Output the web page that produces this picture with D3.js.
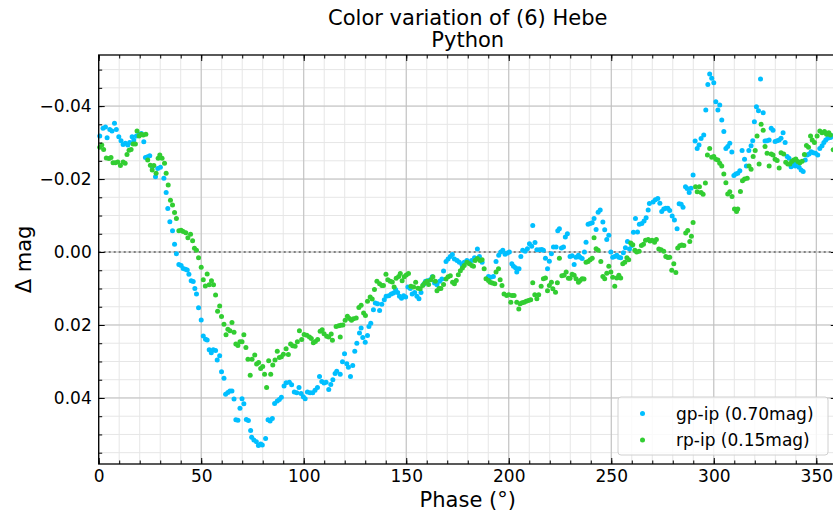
<!DOCTYPE html>
<html>
<head>
<meta charset="utf-8">
<script src="https://cdn.jsdelivr.net/npm/d3@7"></script>
<style>
body { margin: 0; background: #fff; }
svg { display: block; font-family: "DejaVu Sans", sans-serif; }
</style>
</head>
<body>
<div id="chart"></div>
<script>
// phase (deg), delta mag
var gpPoints = [
[0.5,-.0318],[2.1,-.0339],[3.3,-.0343],[4.1,-.0313],[5.4,-.0336],[6.5,-.0332],[7.7,-.0353],[8.6,-.0336],[9.8,-.0316],[10.9,-.0305],
[11.9,-.0295],[13.0,-.0298],[14.2,-.0293],[15.1,-.0300],[16.3,-.0316],[17.1,-.0307],[18.4,-.0318],[19.7,-.0323],[20.8,-.0325],[22.0,-.0302],
[22.8,-.0259],[23.9,-.0261],[24.9,-.0264],[26.1,-.0234],[27.7,-.0206],[28.8,-.0229],[30.1,-.0232],[31.8,-.0202],[32.9,-.0163],[33.7,-.0119],
[34.7,-.0083],[36.0,-.0058],[37.0,-.0021],[37.9,.0005],[39.1,.0034],[40.2,.0037],[41.2,.0045],[42.3,.0047],[43.2,.0049],[44.0,.0061],
[45.1,.0079],[46.1,.0081],[46.9,.0100],[47.7,.0115],[48.7,.0153],[50.0,.0186],[51.0,.0230],[52.1,.0239],[52.9,.0241],[53.9,.0268],
[54.9,.0276],[55.9,.0268],[57.0,.0270],[57.8,.0296],[59.0,.0284],[59.9,.0328],[61.1,.0346],[61.9,.0390],[63.0,.0385],[64.0,.0381],
[65.0,.0381],[66.0,.0403],[66.9,.0460],[67.9,.0461],[68.9,.0428],[69.9,.0402],[70.8,.0416],[72.0,.0459],[73.0,.0462],[74.1,.0489],
[74.6,.0508],[75.7,.0515],[76.9,.0520],[77.9,.0530],[79.0,.0526],[79.8,.0529],[81.4,.0511],[82.6,.0460],[83.6,.0463],[84.7,.0456],
[85.8,.0415],[87.1,.0408],[88.1,.0404],[89.1,.0398],[90.4,.0367],[91.4,.0358],[93.0,.0357],[94.1,.0364],[95.4,.0384],[96.6,.0386],
[97.7,.0371],[98.7,.0388],[99.8,.0397],[100.7,.0402],[101.8,.0384],[103.1,.0386],[104.4,.0386],[105.5,.0379],[106.7,.0371],[107.7,.0341],
[108.8,.0355],[109.9,.0359],[110.9,.0357],[112.2,.0377],[113.2,.0363],[114.2,.0350],[115.3,.0333],[116.1,.0327],[117.8,.0335],[118.9,.0301],
[119.9,.0279],[121.0,.0306],[121.8,.0316],[122.8,.0341],[123.9,.0311],[124.9,.0272],[125.9,.0250],[127.2,.0222],[128.0,.0208],[128.8,.0234],
[130.0,.0247],[131.1,.0229],[131.8,.0204],[132.7,.0195],[134.0,.0158],[134.9,.0140],[136.0,.0142],[137.0,.0160],[138.1,.0143],[139.3,.0131],
[140.2,.0121],[141.5,.0120],[142.7,.0115],[143.8,.0112],[144.8,.0103],[145.8,.0111],[146.7,.0121],[147.7,.0127],[148.7,.0120],[149.7,.0123],
[150.8,.0096],[152.0,.0100],[152.9,.0115],[154.1,.0111],[155.2,.0121],[156.2,.0128],[157.2,.0111],[158.5,.0088],[159.4,.0080],[160.4,.0079],
[161.7,.0076],[162.7,.0068],[163.8,.0085],[165.0,.0090],[166.3,.0080],[167.4,.0074],[168.2,.0052],[169.4,.0026],[170.4,.0019],[171.5,.0012],
[172.5,.0007],[173.5,.0019],[174.8,.0023],[175.9,.0028],[177.2,.0035],[178.3,.0028],[179.6,.0023],[180.9,.0028],[181.9,.0023],[183.3,.0016],
[184.7,-.0008],[185.7,.0012],[187.0,.0028],[190.1,.0067],[191.2,.0069],[192.5,.0067],[193.8,.0026],[195.1,.0009],[196.1,.0000],[197.1,-.0005],
[198.2,.0006],[199.3,.0003],[200.3,.0000],[201.5,.0032],[202.3,.0039],[203.3,.0043],[203.9,.0055],[205.0,.0046],[205.9,.0012],[206.8,-.0005],
[208.0,-.0002],[209.1,-.0009],[210.1,-.0023],[211.2,-.0016],[211.7,-.0073],[212.8,-.0026],[213.7,-.0006],[215.0,-.0006],[216.1,-.0007],[216.9,-.0005],
[217.9,.0017],[218.9,.0046],[219.8,.0025],[220.8,.0005],[221.8,-.0014],[223.1,-.0014],[223.9,-.0058],[224.7,-.0064],[225.7,-.0011],[226.7,-.0014],
[227.6,-.0041],[228.6,-.0050],[229.9,.0012],[230.9,.0010],[231.9,.0034],[232.8,.0014],[234.0,.0009],[234.8,.0014],[235.8,.0018],[236.9,.0000],
[237.7,-.0027],[238.7,-.0076],[239.7,-.0078],[240.7,-.0080],[241.6,-.0092],[242.6,-.0062],[243.6,-.0109],[244.6,-.0115],[245.9,-.0082],[246.8,-.0061],
[247.8,-.0034],[248.8,-.0046],[249.8,.0000],[250.7,.0014],[251.7,.0012],[252.7,.0009],[253.7,.0014],[254.6,.0016],[255.9,.0002],[256.9,-.0012],
[257.9,-.0029],[258.9,-.0008],[260.0,-.0018],[260.8,-.0054],[261.8,-.0092],[262.8,-.0055],[263.7,-.0076],[264.9,-.0078],[266.0,-.0085],[267.0,-.0094],
[268.0,-.0115],[268.6,-.0133],[270.4,-.0137],[271.5,-.0143],[272.7,-.0147],[273.7,-.0134],[274.6,-.0111],[275.6,-.0118],[276.6,-.0120],[277.6,-.0120],
[278.5,-.0114],[279.7,-.0099],[280.8,-.0088],[282.1,-.0064],[283.1,-.0132],[284.1,-.0131],[285.0,-.0123],[286.2,-.0179],[287.0,-.0174],[288.0,-.0163],
[288.9,-.0175],[289.9,-.0211],[290.9,-.0304],[291.9,-.0284],[292.8,-.0293],[293.8,-.0311],[295.1,-.0321],[296.1,-.0389],[297.1,-.0459],[298.0,-.0488],
[299.0,-.0476],[300.0,-.0464],[301.0,-.0412],[302.0,-.0389],[302.9,-.0403],[303.9,-.0362],[304.9,-.0330],[305.9,-.0284],[306.8,-.0289],[307.8,-.0298],
[308.8,-.0274],[309.8,-.0210],[310.7,-.0214],[311.7,-.0216],[312.7,-.0223],[313.8,-.0278],[315.0,-.0254],[315.9,-.0236],[317.1,-.0278],[318.2,-.0291],
[319.0,-.0305],[319.8,-.0357],[320.8,-.0398],[321.8,-.0387],[322.8,-.0474],[324.1,-.0382],[325.0,-.0304],[326.0,-.0305],[327.0,-.0307],[328.0,-.0339],
[328.9,-.0334],[329.9,-.0303],[330.9,-.0305],[331.9,-.0307],[332.8,-.0312],[333.8,-.0327],[334.8,-.0300],[335.8,-.0262],[336.7,-.0257],[337.7,-.0234],
[338.7,-.0245],[339.7,-.0236],[340.7,-.0243],[341.6,-.0232],[342.6,-.0225],[343.6,-.0221],[344.6,-.0252],[345.5,-.0266],[346.5,-.0269],[347.5,-.0275],
[348.5,-.0272],[349.6,-.0271],[350.7,-.0266],[351.7,-.0284],[352.8,-.0291],[353.7,-.0300],[354.6,-.0307],[355.6,-.0312],[356.9,-.0314],[357.9,-.0318]
];

var rpPoints = [
[0.5,-.0287],[1.5,-.0293],[2.4,-.0281],[3.7,-.0258],[5.0,-.0256],[6.0,-.0259],[7.0,-.0245],[8.1,-.0245],[9.3,-.0247],[10.6,-.0237],
[11.9,-.0247],[12.9,-.0243],[13.8,-.0267],[14.8,-.0279],[15.8,-.0281],[16.8,-.0296],[17.9,-.0296],[18.7,-.0332],[19.7,-.0318],[20.7,-.0323],
[21.7,-.0321],[23.0,-.0323],[23.9,-.0252],[25.2,-.0238],[26.1,-.0225],[26.9,-.0237],[28.0,-.0216],[29.0,-.0257],[29.8,-.0266],[30.9,-.0257],
[32.1,-.0243],[32.9,-.0216],[33.9,-.0184],[35.0,-.0142],[36.0,-.0129],[37.0,-.0108],[37.9,-.0092],[39.1,-.0058],[40.2,-.0060],[41.2,-.0056],
[42.5,-.0053],[43.5,-.0039],[44.8,-.0049],[45.8,-.0031],[46.7,-.0010],[47.7,-.0005],[48.7,.0016],[50.0,.0042],[51.0,.0076],[52.0,.0093],
[52.9,.0060],[53.9,.0090],[55.0,.0079],[56.0,.0090],[57.0,.0118],[58.0,.0162],[59.0,.0148],[59.9,.0177],[61.1,.0198],[62.1,.0227],
[63.0,.0212],[64.0,.0216],[65.0,.0193],[66.0,.0220],[66.9,.0252],[67.9,.0256],[68.9,.0246],[69.9,.0246],[70.8,.0227],[71.8,.0262],
[72.8,.0294],[73.9,.0338],[74.8,.0294],[76.1,.0282],[77.0,.0307],[78.0,.0303],[79.0,.0319],[80.0,.0314],[80.9,.0335],[81.9,.0371],
[82.9,.0298],[83.9,.0335],[84.9,.0310],[86.0,.0296],[87.1,.0272],[88.1,.0289],[89.1,.0287],[90.1,.0280],[91.4,.0265],[92.5,.0281],
[93.6,.0252],[94.6,.0257],[95.8,.0258],[96.9,.0246],[97.9,.0216],[99.0,.0240],[100.2,.0226],[101.5,.0228],[102.8,.0233],[103.7,.0237],
[104.7,.0249],[105.7,.0245],[106.8,.0240],[108.0,.0217],[109.0,.0213],[109.9,.0224],[111.2,.0231],[112.2,.0233],[113.4,.0225],[114.0,.0242],
[115.8,.0204],[117.1,.0202],[117.8,.0233],[118.1,.0201],[119.1,.0200],[120.2,.0187],[121.3,.0176],[122.3,.0182],[123.3,.0187],[124.3,.0183],
[125.6,.0181],[126.9,.0152],[128.0,.0146],[129.2,.0167],[130.1,.0174],[131.1,.0135],[132.4,.0123],[133.4,.0129],[134.5,.0103],[135.7,.0080],
[137.0,.0087],[138.1,.0092],[138.9,.0092],[140.1,.0061],[141.0,.0076],[142.2,.0080],[143.2,.0082],[144.1,.0096],[145.1,.0072],[146.3,.0067],
[147.1,.0059],[148.0,.0079],[149.0,.0068],[150.0,.0063],[151.1,.0059],[152.3,.0094],[153.6,.0096],[154.6,.0083],[155.7,.0099],[156.8,.0101],
[158.0,.0092],[159.0,.0085],[160.1,.0080],[160.9,.0089],[162.1,.0076],[163.0,.0068],[164.2,.0080],[165.0,.0106],[166.0,.0100],[166.9,.0100],
[168.2,.0089],[169.4,.0074],[170.4,.0068],[171.5,.0065],[172.6,.0083],[173.5,.0087],[174.4,.0078],[175.4,.0062],[176.4,.0051],[177.4,.0044],
[178.3,.0037],[179.6,.0028],[180.8,.0032],[182.0,.0037],[182.8,.0039],[183.6,.0023],[184.7,.0018],[186.0,.0023],[187.0,.0021],[188.0,.0046],
[188.9,.0073],[190.1,.0078],[190.9,.0083],[192.0,.0085],[193.2,.0087],[193.8,.0055],[195.0,.0046],[195.8,.0076],[196.7,.0092],[197.7,.0115],
[199.0,.0119],[200.0,.0117],[201.0,.0138],[201.6,.0119],[202.6,.0119],[203.9,.0138],[204.9,.0156],[205.5,.0142],[206.5,.0139],[207.5,.0138],
[208.5,.0135],[209.6,.0133],[210.7,.0131],[211.7,.0084],[212.7,.0117],[213.7,.0128],[214.6,.0117],[215.8,.0094],[216.9,.0073],[217.9,.0071],
[218.9,.0106],[219.8,.0092],[220.8,.0083],[221.5,.0101],[222.8,.0110],[223.7,.0084],[224.7,.0017],[225.9,.0065],[227.0,.0064],[228.0,.0055],
[229.1,.0072],[229.9,.0072],[230.9,.0061],[231.9,.0064],[232.8,.0073],[234.0,.0083],[234.8,.0078],[235.8,.0073],[236.7,.0074],[237.7,.0028],
[238.7,.0026],[239.7,.0021],[240.7,.0017],[241.6,-.0039],[242.6,-.0009],[243.6,-.0005],[244.9,.0026],[245.9,.0067],[246.8,.0073],[247.8,.0058],
[248.8,.0039],[249.8,.0055],[250.7,.0069],[251.7,.0094],[252.7,.0071],[253.7,.0064],[254.6,.0071],[255.6,.0032],[256.6,.0028],[257.6,.0016],
[258.5,.0021],[259.5,-.0025],[260.5,-.0020],[261.5,-.0005],[262.4,.0000],[263.6,-.0002],[264.7,-.0018],[265.7,-.0021],[266.7,-.0032],[268.0,-.0034],
[268.9,-.0030],[269.9,-.0032],[271.1,-.0027],[272.0,-.0034],[273.2,-.0008],[274.3,-.0006],[275.6,-.0002],[276.6,.0012],[277.6,.0015],[278.5,.0014],
[279.5,.0050],[280.5,.0032],[281.5,.0056],[282.4,-.0011],[283.4,-.0017],[284.4,-.0019],[285.4,-.0018],[286.3,-.0052],[287.3,-.0059],[288.3,-.0029],
[289.1,-.0043],[289.9,-.0081],[291.1,-.0179],[291.9,-.0165],[293.0,-.0179],[293.8,-.0163],[294.8,-.0158],[295.9,-.0189],[296.9,-.0266],[298.0,-.0284],
[299.0,-.0260],[300.0,-.0262],[301.0,-.0254],[302.0,-.0252],[302.9,-.0243],[303.9,-.0236],[304.9,-.0214],[305.9,-.0190],[306.8,-.0159],[307.8,-.0165],
[308.9,-.0152],[310.1,-.0118],[311.1,-.0111],[311.7,-.0118],[313.0,-.0166],[314.0,-.0195],[315.0,-.0200],[316.3,-.0202],[317.2,-.0236],[318.2,-.0227],
[319.2,-.0262],[320.2,-.0278],[321.1,-.0318],[322.1,-.0241],[323.1,-.0350],[324.1,-.0334],[325.0,-.0289],[326.0,-.0271],[327.0,-.0236],[328.0,-.0269],
[328.9,-.0266],[329.9,-.0254],[330.9,-.0251],[331.9,-.0230],[332.8,-.0272],[334.1,-.0269],[335.1,-.0246],[336.1,-.0241],[337.1,-.0241],[338.0,-.0248],
[339.0,-.0252],[340.0,-.0255],[341.0,-.0248],[342.0,-.0245],[343.1,-.0249],[344.2,-.0267],[345.2,-.0292],[346.2,-.0287],[347.2,-.0318],[348.0,-.0307],
[349.1,-.0300],[350.4,-.0318],[351.7,-.0332],[352.8,-.0327],[354.0,-.0330],[355.0,-.0323],[356.1,-.0327],[356.9,-.0321],[358.2,-.0280]
];

var seriesNames = ["gp-ip (0.70mag)", "rp-ip (0.15mag)"];
var seriesColors = ["#00bfff", "#32cd32"];
var xTicks = [0, 50, 100, 150, 200, 250, 300, 350];
var yTicks = [-0.04, -0.02, 0, 0.02, 0.04];

var width = 833, height = 517;
var plotLeft = 98.7, plotRight = 836.8, plotTop = 55, plotBottom = 464;

var svg = d3.select("#chart").append("svg")
    .attr("width", width)
    .attr("height", height);

var x = d3.scaleLinear().domain([0, 360]).range([plotLeft, plotRight]);
var y = d3.scaleLinear().domain([-0.054, 0.0581]).range([plotTop, plotBottom]);

var xMinor = d3.range(0, 361, 10);
var yMinor = d3.range(-10, 12).map(function (i) { return i * 0.005; });

// grid, minor first then major
var grid = svg.append("g");
grid.selectAll(".mx").data(xMinor).enter().append("line")
    .attr("x1", d => x(d)).attr("x2", d => x(d))
    .attr("y1", plotTop).attr("y2", plotBottom)
    .attr("stroke", "#e6e6e6").attr("stroke-width", 1);
grid.selectAll(".my").data(yMinor).enter().append("line")
    .attr("x1", plotLeft).attr("x2", plotRight)
    .attr("y1", d => y(d)).attr("y2", d => y(d))
    .attr("stroke", "#e6e6e6").attr("stroke-width", 1);
grid.selectAll(".gx").data(xTicks).enter().append("line")
    .attr("x1", d => x(d)).attr("x2", d => x(d))
    .attr("y1", plotTop).attr("y2", plotBottom)
    .attr("stroke", "#bfbfbf").attr("stroke-width", 1);
grid.selectAll(".gy").data(yTicks).enter().append("line")
    .attr("x1", plotLeft).attr("x2", plotRight)
    .attr("y1", d => y(d)).attr("y2", d => y(d))
    .attr("stroke", "#bfbfbf").attr("stroke-width", 1);

// zero line
svg.append("line")
    .attr("x1", plotLeft).attr("x2", plotRight)
    .attr("y1", y(0)).attr("y2", y(0))
    .attr("stroke", "#808080").attr("stroke-width", 2)
    .attr("stroke-dasharray", "2,3");

// points
var series = [gpPoints, rpPoints];
series.forEach(function (pts, i) {
    svg.append("g").selectAll("circle").data(pts).enter().append("circle")
        .attr("cx", d => x(d[0]))
        .attr("cy", d => y(d[1]))
        .attr("r", 2.5)
        .attr("fill", seriesColors[i]);
});

// axes with inward ticks
function styleAxis(g) {
    g.select(".domain").remove();
    g.selectAll(".tick line").attr("stroke", "#000").attr("stroke-width", 1);
    g.selectAll(".tick text").attr("font-size", 17).attr("fill", "#000")
        .attr("font-family", "DejaVu Sans, sans-serif");
}
var fmtY = d3.format(".2f");

svg.append("g").attr("transform", "translate(0," + plotBottom + ")")
    .call(d3.axisBottom(x).tickValues(xMinor).tickSize(-3.5).tickFormat(""))
    .call(styleAxis);
svg.append("g").attr("transform", "translate(0," + plotBottom + ")")
    .call(d3.axisBottom(x).tickValues(xTicks).tickSize(-6).tickPadding(6).tickFormat(d3.format("d")))
    .call(styleAxis);
svg.append("g").attr("transform", "translate(0," + plotTop + ")")
    .call(d3.axisTop(x).tickValues(xMinor).tickSize(-3.5).tickFormat(""))
    .call(styleAxis);
svg.append("g").attr("transform", "translate(0," + plotTop + ")")
    .call(d3.axisTop(x).tickValues(xTicks).tickSize(-6).tickFormat(""))
    .call(styleAxis);

svg.append("g").attr("transform", "translate(" + plotLeft + ",0)")
    .call(d3.axisLeft(y).tickValues(yMinor).tickSize(-3.5).tickFormat(""))
    .call(styleAxis);
svg.append("g").attr("transform", "translate(" + plotLeft + ",0)")
    .call(d3.axisLeft(y).tickValues(yTicks).tickSize(-6).tickPadding(7).tickFormat(fmtY))
    .call(styleAxis);
svg.append("g").attr("transform", "translate(" + plotRight + ",0)")
    .call(d3.axisRight(y).tickValues(yMinor).tickSize(-3.5).tickFormat(""))
    .call(styleAxis);
svg.append("g").attr("transform", "translate(" + plotRight + ",0)")
    .call(d3.axisRight(y).tickValues(yTicks).tickSize(-6).tickFormat(""))
    .call(styleAxis);

// frame
svg.append("rect")
    .attr("x", plotLeft).attr("y", plotTop)
    .attr("width", plotRight - plotLeft).attr("height", plotBottom - plotTop)
    .attr("fill", "none").attr("stroke", "#000").attr("stroke-width", 1.3);

// legend
var lg = svg.append("g");
lg.append("rect")
    .attr("x", 618).attr("y", 397).attr("width", 210).attr("height", 58)
    .attr("rx", 3).attr("fill", "#fff").attr("fill-opacity", 0.8)
    .attr("stroke", "#d0d0d0").attr("stroke-width", 1);
seriesNames.forEach(function (name, i) {
    lg.append("circle")
        .attr("cx", 642.5).attr("cy", 413.5 + i * 26.5).attr("r", 2.5)
        .attr("fill", seriesColors[i]);
    lg.append("text")
        .attr("x", 676).attr("y", 419.5 + i * 26.5)
        .attr("font-size", 17).text(name);
});

// titles and labels
var midX = (plotLeft + plotRight) / 2;
svg.append("text").attr("x", midX).attr("y", 25)
    .attr("text-anchor", "middle").attr("font-size", 21)
    .text("Color variation of (6) Hebe");
svg.append("text").attr("x", midX).attr("y", 47)
    .attr("text-anchor", "middle").attr("font-size", 21)
    .text("Python");
svg.append("text").attr("x", midX).attr("y", 507)
    .attr("text-anchor", "middle").attr("font-size", 21)
    .text("Phase (°)");
svg.append("text")
    .attr("transform", "translate(31," + ((plotTop + plotBottom) / 2) + ") rotate(-90)")
    .attr("text-anchor", "middle").attr("font-size", 21)
    .text("Δ mag");
</script>
</body>
</html>
